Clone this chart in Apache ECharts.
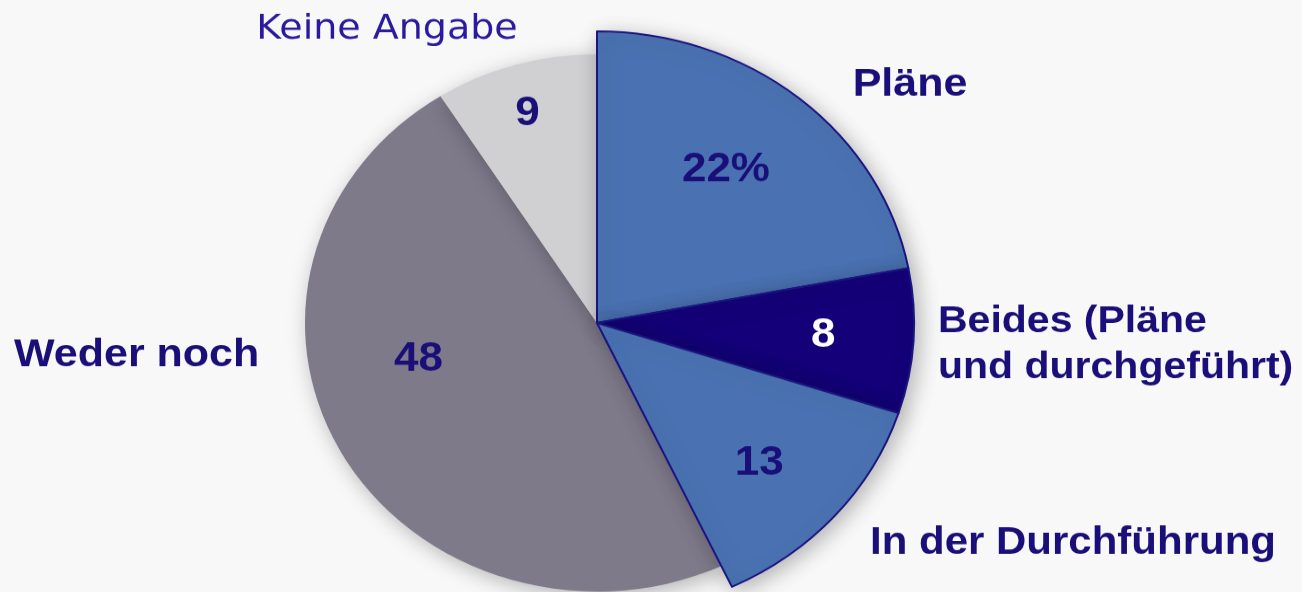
<!DOCTYPE html>
<html>
<head>
<meta charset="utf-8">
<script src="https://cdn.jsdelivr.net/npm/echarts@6/dist/echarts.min.js"></script>
<style>
  html, body { margin: 0; padding: 0; background: #f8f8f9; overflow: hidden; }
  #wrap { width: 1302px; height: 592px; overflow: hidden; }
  #chart { width: 1302px; height: 644px; transform: scaleY(0.92); transform-origin: 0 0; }
</style>
</head>
<body>
<div id="wrap"><div id="chart"></div></div>
<script>
// Data
const categories = ['Pläne', 'Beides (Pläne und durchgeführt)', 'In der Durchführung', 'Weder noch', 'Keine Angabe'];
const values = [22, 8, 13, 48, 9];
const exploded = [true, true, true, false, false];

// Styles
const sliceColors = ['#4a72b2', '#140078', '#4a72b2', '#7e7a8a', '#d0d0d2'];
const innerLabelColors = ['#1a0f78', '#ffffff', '#1a0f78', '#1a0f78', '#1a0f78'];
const innerNudge = [[26, -42], [65, 4], [41, 46], [-48, -32], [-28, -84]];
const namePos = [[910, 92, 'center'], [938, 375, 'left'], [870, 590, 'left'], [14, 386, 'left'], [387, 32, 'center']];
const nameSize = [43, 41, 42, 43, 38];
const nameBold = [true, true, true, true, false];

const CENTER = [597, 351];
const R_BIG = 317, R_SMALL = 292;
const navy = '#1a0f78';
const transparent = 'rgba(0,0,0,0)';

function sliceData(showBig) {
  return categories.map((c, i) => {
    const visible = exploded[i] === showBig;
    return {
      name: c,
      value: values[i],
      itemStyle: visible ? {
        color: sliceColors[i],
        borderColor: exploded[i] ? '#1c1480' : sliceColors[i],
        borderWidth: exploded[i] ? 2 : 0,
        shadowBlur: 22,
        shadowColor: 'rgba(0,0,0,0.28)',
        shadowOffsetX: 4,
        shadowOffsetY: 5
      } : { color: transparent, borderWidth: 0 },
      label: {
        show: visible,
        color: innerLabelColors[i]
      }
    };
  });
}

const innerLabel = {
  position: 'inside',
  fontFamily: 'Liberation Sans, Arial, sans-serif',
  fontWeight: 'bold',
  fontSize: 44,
  formatter: p => p.dataIndex === 0 ? p.value + '%' : String(p.value)
};

const chart = echarts.init(document.getElementById('chart'), null, { renderer: 'canvas' });
chart.setOption({
  backgroundColor: '#f8f8f9',
  animation: false,
  series: [
    {
      type: 'pie', center: CENTER, radius: R_SMALL, startAngle: 90, clockwise: true,
      avoidLabelOverlap: false, silent: true, emphasis: { disabled: true },
      label: innerLabel, labelLine: { show: false },
      labelLayout: p => ({ dx: innerNudge[p.dataIndex][0], dy: innerNudge[p.dataIndex][1] }),
      data: sliceData(false), z: 1
    },
    {
      type: 'pie', center: CENTER, radius: R_BIG, startAngle: 90, clockwise: true,
      avoidLabelOverlap: false, silent: true, emphasis: { disabled: true },
      label: innerLabel, labelLine: { show: false },
      labelLayout: p => ({ dx: innerNudge[p.dataIndex][0], dy: innerNudge[p.dataIndex][1] }),
      data: sliceData(true), z: 2
    },
    {
      type: 'pie', center: CENTER, radius: R_BIG, startAngle: 90, clockwise: true,
      avoidLabelOverlap: false, silent: true, emphasis: { disabled: true },
      labelLine: { show: false },
      label: {
        show: true, position: 'outside',
        fontFamily: 'Liberation Sans, Arial, sans-serif',
        fontSize: 43, lineHeight: 50, color: navy,
        formatter: p => p.name.replace(' und ', '\nund ')
      },
      labelLayout: p => ({
        x: namePos[p.dataIndex][0], y: namePos[p.dataIndex][1],
        align: namePos[p.dataIndex][2], verticalAlign: 'middle'
      }),
      data: categories.map((c, i) => ({
        name: c, value: values[i],
        itemStyle: { color: transparent, borderWidth: 0 },
        label: nameBold[i]
          ? { fontWeight: 'bold', fontSize: nameSize[i] }
          : { fontWeight: 'normal', fontFamily: 'DejaVu Sans, sans-serif', fontSize: nameSize[i], color: '#2b1a9e' }
      })),
      z: 3
    }
  ]
});
</script>
</body>
</html>
